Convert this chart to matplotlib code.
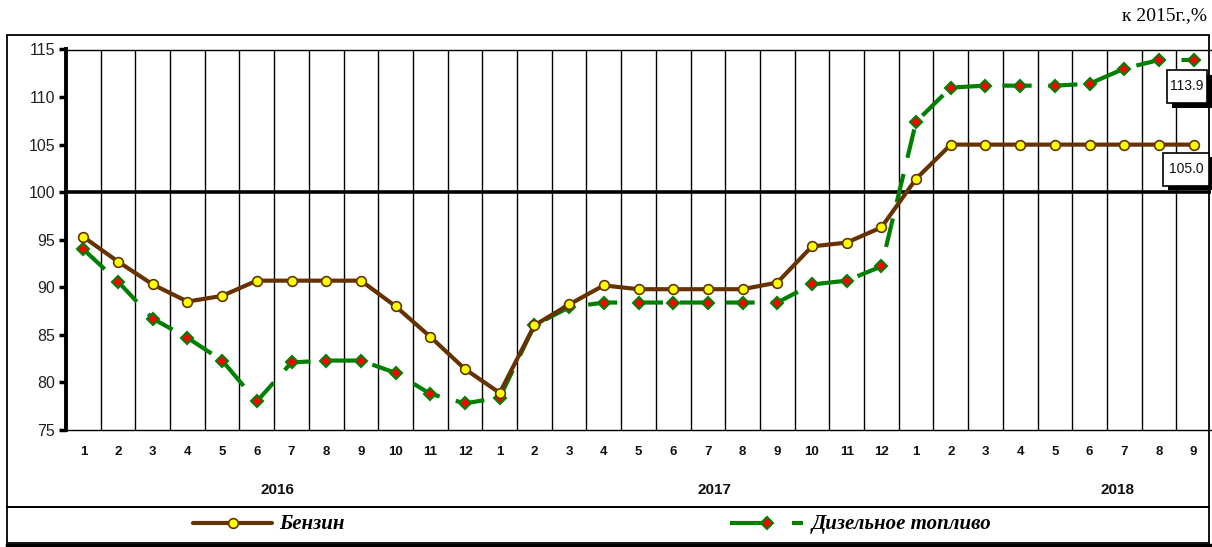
import matplotlib
matplotlib.use("Agg")
import matplotlib.pyplot as plt
from matplotlib import font_manager
from matplotlib.patches import Rectangle
from matplotlib.lines import Line2D
import matplotlib.transforms as mtransforms

# ---------------- data ----------------
months = [str(m) for m in range(1, 13)] + [str(m) for m in range(1, 13)] + [str(m) for m in range(1, 10)]
years = ["2016", "2017", "2018"]
year_label_pos = [6.1, 18.7, 30.3]   # category position of year labels

benzin = [95.3, 92.7, 90.3, 88.5, 89.1, 90.7, 90.7, 90.7, 90.7, 88.0, 84.8, 81.4,
          78.9, 86.0, 88.2, 90.2, 89.8, 89.8, 89.8, 89.8, 90.5, 94.3, 94.7, 96.3,
          101.4, 105.0, 105.0, 105.0, 105.0, 105.0, 105.0, 105.0, 105.0]
diesel = [94.0, 90.6, 86.7, 84.7, 82.3, 78.0, 82.1, 82.3, 82.3, 81.0, 78.8, 77.8,
          78.4, 86.0, 87.9, 88.4, 88.4, 88.4, 88.4, 88.4, 88.4, 90.3, 90.7, 92.2,
          107.4, 111.0, 111.2, 111.2, 111.2, 111.4, 113.0, 113.9, 113.9]
series_names = ["Бензин", "Дизельное топливо"]
end_labels = ["113.9", "105.0"]
yticks = [75, 80, 85, 90, 95, 100, 105, 110, 115]
unit_text = "к 2015г.,%"

# ---------------- fonts ----------------
avail = {f.name for f in font_manager.fontManager.ttflist}
def pick(*names):
    for n in names:
        if n in avail:
            return n
    return "DejaVu Sans"
SANS = pick("Liberation Sans Narrow", "Liberation Sans", "Arial", "DejaVu Sans")
SANS_REG = pick("Liberation Sans", "Arial", "DejaVu Sans")
SERIF = pick("Liberation Serif", "Times New Roman", "DejaVu Serif")

W, H = 1212, 547
fig = plt.figure(figsize=(W / 100, H / 100), dpi=100)
fig.patch.set_facecolor("white")

def fx(x):
    return x / W
def fy(y):
    return 1 - y / H

# ---------------- axes ----------------
ax_l, ax_r, ax_t, ax_b = 66, 1211, 49.5, 430
ax = fig.add_axes([fx(ax_l), fy(ax_b), (ax_r - ax_l) / W, (ax_b - ax_t) / H])
ax.set_xlim(0, len(months))
ax.set_ylim(75, 115)
x = [i + 0.5 for i in range(len(months))]

for i in range(1, len(months)):
    ax.axvline(i, color="black", lw=1.0, zorder=1)
ax.axhline(100, color="black", lw=2.6, zorder=2)

ax.spines["right"].set_visible(False)
ax.spines["top"].set_linewidth(1.0)
ax.spines["bottom"].set_linewidth(1.0)
ax.spines["left"].set_linewidth(2.8)
ax.set_yticks(yticks)
ax.set_yticklabels([str(v) for v in yticks], fontfamily=SANS_REG, fontsize=11.5)
ax.tick_params(axis="y", direction="out", length=5, width=2.5, pad=3, labelcolor="#222222")
ax.set_xticks([])

# lines
ax.plot(x, benzin, color="#663300", lw=3.0, marker="o", markersize=7,
        markerfacecolor="#FFFF00", markeredgecolor="#663300", markeredgewidth=1.2,
        zorder=4, clip_on=False)
ax.plot(x, diesel, color="#008000", lw=3.0, linestyle=(0, (7, 4)), marker="D", markersize=6,
        markerfacecolor="#FF0000", markeredgecolor="#008000", markeredgewidth=1.5,
        zorder=3, clip_on=False)

# month labels & years
trans = mtransforms.blended_transform_factory(ax.transData, ax.transAxes)
ylab = (ax_b - 452) / (ax_b - ax_t)
for xi, m in zip(x, months):
    ax.text(xi, ylab, m, transform=trans, ha="center", va="center",
            fontsize=9.5, fontweight="bold", fontfamily=SANS, color="#111111")
yyr = (ax_b - 490) / (ax_b - ax_t)
for pos, yr in zip(year_label_pos, years):
    ax.text(pos, yyr, yr, transform=trans, ha="center", va="center",
            fontsize=11, fontweight="bold", fontfamily=SANS_REG, color="#111111")

# ---------------- frames ----------------
fig.patches.append(Rectangle((fx(7), fy(507)), fx(1209) - fx(7), fy(35) - fy(507),
                             transform=fig.transFigure, fill=False, ec="black", lw=1.3, zorder=0))
fig.patches.append(Rectangle((fx(7), fy(543)), fx(1209) - fx(7), fy(507) - fy(543),
                             transform=fig.transFigure, fill=False, ec="black", lw=1.3, zorder=0))
fig.lines.append(Line2D([fx(7), fx(1210)], [fy(545), fy(545)], transform=fig.transFigure,
                        color="black", lw=2.5))

# ---------------- end labels with shadow ----------------
def label_box(cx, cy, w, h, txt):
    x0, y0 = cx - w / 2, cy + h / 2
    fig.patches.append(Rectangle((fx(x0 + 5), fy(y0 + 5)), w / W, h / H,
                                 transform=fig.transFigure, fc="black", ec="black", lw=0, zorder=5))
    fig.patches.append(Rectangle((fx(x0), fy(y0)), w / W, h / H,
                                 transform=fig.transFigure, fc="white", ec="black", lw=1.2, zorder=6))
    fig.text(fx(cx), fy(cy), txt, ha="center", va="center", fontsize=10,
             fontfamily=SANS, color="#111111", zorder=7)

label_box(1187, 86, 40, 33, end_labels[0])
label_box(1186, 169, 46, 33, end_labels[1])

# ---------------- unit text ----------------
fig.text(fx(1207), fy(16), unit_text, ha="right", va="center", fontsize=14,
         fontfamily=SERIF, color="black")

# ---------------- legend ----------------
ly = 523
fig.lines.append(Line2D([fx(193), fx(272)], [fy(ly), fy(ly)], transform=fig.transFigure,
                        color="#663300", lw=3.0, solid_capstyle="round"))
fig.lines.append(Line2D([fx(233)], [fy(ly)], transform=fig.transFigure, marker="o",
                        markersize=7, markerfacecolor="#FFFF00", markeredgecolor="#663300",
                        markeredgewidth=1.2, linestyle="none"))
fig.text(fx(279), fy(ly + 1), series_names[0], ha="left", va="center", fontsize=15,
         fontfamily=SERIF, fontweight="bold", fontstyle="italic", color="black")

fig.lines.append(Line2D([fx(730), fx(766)], [fy(ly), fy(ly)], transform=fig.transFigure,
                        color="#008000", lw=3.0, solid_capstyle="butt"))
fig.lines.append(Line2D([fx(792), fx(803)], [fy(ly), fy(ly)], transform=fig.transFigure,
                        color="#008000", lw=3.0, solid_capstyle="butt"))
fig.lines.append(Line2D([fx(767)], [fy(ly)], transform=fig.transFigure, marker="D",
                        markersize=6, markerfacecolor="#FF0000", markeredgecolor="#008000",
                        markeredgewidth=1.5, linestyle="none"))
fig.text(fx(812), fy(ly + 1), series_names[1], ha="left", va="center", fontsize=15,
         fontfamily=SERIF, fontweight="bold", fontstyle="italic", color="black")

fig.savefig("out.png", dpi=100, facecolor="white")
